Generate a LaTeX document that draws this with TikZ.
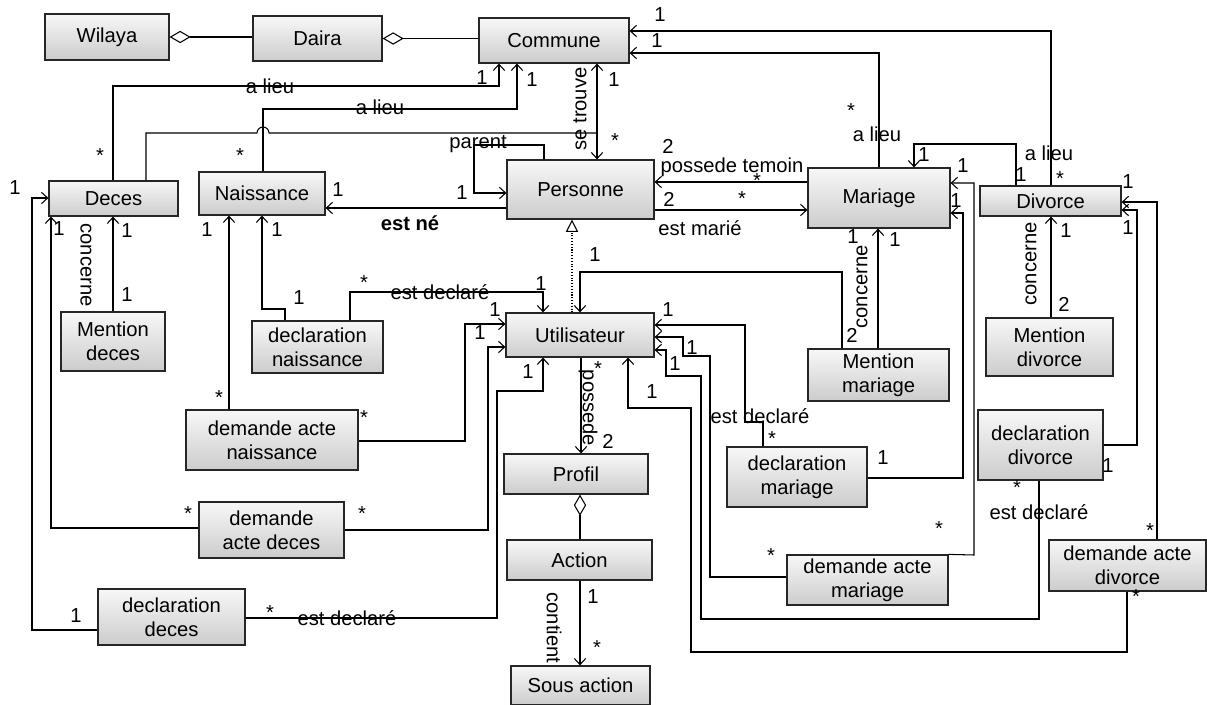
\documentclass[tikz,border=0pt]{standalone}
\usepackage{fontspec}
\setmainfont{Liberation Sans}
\usetikzlibrary{arrows.meta}
\tikzset{
  classe/.style={draw=black!85, line width=0.7pt, top color=gray!6, bottom color=gray!40,
    align=center, inner sep=1pt, font=\fontsize{11.5}{13.5}\selectfont},
  taille/.style 2 args={minimum width=#1*0.02cm, minimum height=#2*0.02cm},
  fleche/.style={line width=0.6pt, -{Straight Barb[length=3.5pt,width=6.5pt]}},
  fleches/.style={line width=0.6pt, {Straight Barb[length=3.5pt,width=6.5pt]}-{Straight Barb[length=3.5pt,width=6.5pt]}},
  agreg/.style={line width=0.6pt, {Diamond[open,length=12pt,width=7pt]}-},
  herit/.style={line width=0.6pt, densely dotted, -{Triangle[open,length=7pt,width=7pt]}},
  lien/.style={line width=0.6pt},
  mult/.style={font=\fontsize{11.5}{13}\selectfont, inner sep=0pt},
  role/.style={font=\fontsize{11.5}{13}\selectfont, inner sep=0pt}
}
\begin{document}
\begin{tikzpicture}[x=0.02cm, y=-0.02cm]
    \useasboundingbox (0,0) rectangle (1207,705);
    % classes
    \node[classe, taille={124}{46}] (wilaya) at (107,37) {Wilaya};
    \node[classe, taille={129}{45}] (daira) at (317.5,38.5) {Daira};
    \node[classe, taille={150}{45}] (commune) at (554,40.5) {Commune};
    \node[classe, taille={129}{35}] (deces) at (113.5,198.5) {Deces};
    \node[classe, taille={126}{43}] (naissance) at (262,193.5) {Naissance};
    \node[classe, taille={147}{59}] (personne) at (580.5,189.5) {Personne};
    \node[classe, taille={142}{60}] (mariage) at (879,198) {Mariage};
    \node[classe, taille={141}{30}] (divorce) at (1050.5,201) {Divorce};
    \node[classe, taille={104}{59}] (mdeces) at (113,341.5) {Mention\\deces};
    \node[classe, taille={131}{52}] (dnaiss) at (317.5,347) {declaration\\naissance};
    \node[classe, taille={172}{60}] (danaiss) at (272,440) {demande acte\\naissance};
    \node[classe, taille={148}{44}] (util) at (580,335) {Utilisateur};
    \node[classe, taille={141}{52}] (mmariage) at (878.5,375) {Mention\\mariage};
    \node[classe, taille={127}{58}] (mdivorce) at (1049.5,347) {Mention\\divorce};
    \node[classe, taille={125}{70}] (ddivorce) at (1040.5,445) {declaration\\divorce};
    \node[classe, taille={144}{40}] (profil) at (576,474) {Profil};
    \node[classe, taille={145}{40}] (action) at (579.5,560) {Action};
    \node[classe, taille={139}{39}] (sousaction) at (580.5,685.5) {Sous action};
    \node[classe, taille={140}{60}] (dmariage) at (797,477) {declaration\\mariage};
    \node[classe, taille={161}{50}] (damariage) at (867.5,580) {demande acte\\mariage};
    \node[classe, taille={157}{51}] (dadivorce) at (1127.5,565.5) {demande acte\\divorce};
    \node[classe, taille={145}{56}] (dadeces) at (271.5,530) {demande\\acte deces};
    \node[classe, taille={147}{56}] (ddeces) at (171.5,617) {declaration\\deces};

    % agregations
    \draw[agreg] (wilaya.east) -- (daira.west |- wilaya.east);
    \draw[agreg] (daira.east) -- (commune.west |- daira.east);
    \draw[agreg] (profil.south -| 580,0) -- (action.north -| 580,0);

    % a lieu
    \draw[fleche] (divorce.north -| 1051,0) -- (1051,31) -- (commune.east |- 0,31);
    \node[mult] at (660,15) {1};
    \node[mult] at (1060,179) {*};
    \node[role] at (1049,153) {a lieu};
    \draw[fleche] (mariage.north -| 879,0) -- (879,53) -- (commune.east |- 0,53);
    \node[mult] at (657,41) {1};
    \node[mult] at (851,111) {*};
    \node[role] at (877,134) {a lieu};
    \draw[fleche] (deces.north -| 113,0) -- (113,86) -- (499,86) -- (commune.south -| 499,0);
    \node[mult] at (100,156) {*};
    \node[mult] at (482,78) {1};
    \node[role] at (270,86) {a lieu};
    \draw[fleche] (naissance.north -| 263,0) -- (263,109) -- (517,109) -- (commune.south -| 517,0);
    \node[mult] at (240,156) {*};
    \node[mult] at (532,80) {1};
    \node[role] at (380,107) {a lieu};

    % se trouve
    \draw[fleches] (commune.south -| 597,0) -- (personne.north -| 597,0);
    \node[role, rotate=90] at (580,109) {se trouve};
    \node[mult] at (614,80) {1};
    \node[mult] at (615,141) {*};
    \coordinate (jonction) at (597,133);
    \draw[lien] (deces.north -| 146,0) -- (146,133) -- (257,133)
        arc[start angle=180, end angle=360, radius=6] -- (jonction);

    % personne
    \draw[fleche] (personne.north -| 544,0) -- (544,145) -- (474,145) -- (474,193) -- (personne.west |- 0,193);
    \node[role] at (478,144) {parent};
    \node[mult] at (462,193) {1};
    \draw[fleche] (personne.west |- 0,208) -- (naissance.east |- 0,208);
    \node[mult] at (338,190) {1};
    \node[role, font=\fontsize{11.5}{13}\selectfont\bfseries] at (410,223) {est né};
    \draw[fleche] (mariage.west |- 0,182) -- (personne.east |- 0,182);
    \node[mult] at (668,146) {2};
    \node[role] at (732,167) {possede temoin};
    \node[mult] at (757,181) {*};
    \draw[fleche] (personne.east |- 0,210) -- (mariage.west |- 0,210);
    \node[mult] at (669,199) {2};
    \node[mult] at (742,199) {*};
    \node[role] at (700,228) {est marié};
    \draw[herit] (util.north -| 572,0) -- (personne.south -| 572,0);

    % mariage, divorce
    \draw[fleche] (divorce.north -| 1016,0) -- (1016,144) -- (914,144) -- (mariage.north -| 914,0);
    \node[mult] at (924,155) {1};
    \node[mult] at (1021,175) {1};
    \draw[fleche] (damariage.north east) -- (974,555) -- (974,183) -- (mariage.east |- 0,183);
    \node[mult] at (963,166) {1};
    \node[mult] at (939,529) {*};
    \draw[fleche] (dmariage.east |- 0,478) -- (963,478) -- (963,213) -- (mariage.east |- 0,213);
    \node[mult] at (956,201) {1};
    \node[mult] at (883,458) {1};
    \draw[fleche] (dadivorce.north -| 1157,0) -- (1157,202) -- (divorce.east |- 0,202);
    \node[mult] at (1128,182) {1};
    \node[mult] at (1150,531) {*};
    \draw[fleche] (ddivorce.east |- 0,445) -- (1137,445) -- (1137,210) -- (divorce.east |- 0,210);
    \node[mult] at (1128,228) {1};
    \node[mult] at (1108,466) {1};
    \draw[fleche] (mdivorce.north -| 1051,0) -- (divorce.south -| 1051,0);
    \node[mult] at (1066,231) {1};
    \node[mult] at (1064,304) {2};
    \node[role, rotate=90] at (1031,264) {concerne};
    \draw[fleche] (mmariage.north -| 878,0) -- (mariage.south -| 878,0);
    \node[mult] at (853,237) {1};
    \node[mult] at (895,240) {1};
    \node[role, rotate=90] at (862,287) {concerne};
    \node[mult] at (852,335) {2};
    \draw[fleche] (mmariage.north -| 842,0) -- (842,272) -- (580,272) -- (util.north -| 580,0);
    \node[mult] at (595,255) {1};

    % naissance
    \draw[fleche] (dnaiss.north -| 350,0) -- (350,292) -- (543,292) -- (util.north -| 543,0);
    \node[mult] at (364,283) {*};
    \node[role] at (440,292) {est declaré};
    \node[mult] at (541,284) {1};
    \draw[fleche] (dnaiss.north -| 285,0) -- (285,309) -- (262,309) -- (naissance.south -| 262,0);
    \node[mult] at (299,298) {1};
    \node[mult] at (277,230) {1};
    \draw[fleche] (danaiss.north -| 229,0) -- (naissance.south -| 229,0);
    \node[mult] at (219,398) {*};
    \node[mult] at (207,230) {1};
    \draw[fleche] (danaiss.east |- 0,441) -- (465,441) -- (465,324) -- (util.west |- 0,324);
    \node[mult] at (364,418) {*};
    \node[mult] at (495,310) {1};

    % deces
    \draw[fleche] (dadeces.east |- 0,530) -- (488,530) -- (488,347) -- (util.west |- 0,347);
    \node[mult] at (362,514) {*};
    \node[mult] at (480,333) {1};
    \draw[fleche] (ddeces.east |- 0,618) -- (497,618) -- (497,391) -- (543,391) -- (util.south -| 543,0);
    \node[mult] at (270,613) {*};
    \node[role] at (347,618) {est declaré};
    \node[mult] at (528,372) {1};
    \draw[fleche] (ddeces.west |- 0,630) -- (32,630) -- (32,198) -- (deces.west |- 0,198);
    \node[mult] at (15,188) {1};
    \node[mult] at (76,616) {1};
    \draw[fleche] (dadeces.west |- 0,528) -- (51,528) -- (deces.south -| 51,0);
    \node[mult] at (59,229) {1};
    \node[mult] at (188,514) {*};
    \draw[fleche] (mdeces.north -| 113,0) -- (deces.south -| 113,0);
    \node[mult] at (127,231) {1};
    \node[mult] at (127,295) {1};
    \node[role, rotate=-90] at (86,265) {concerne};

    % utilisateur, cote droit
    \draw[fleche] (dmariage.north -| 763,0) -- (763,422) -- (745,422) -- (745,325) -- (util.east |- 0,325);
    \node[mult] at (668,310) {1};
    \node[role] at (760,416) {est declaré};
    \node[mult] at (772,439) {*};
    \draw[fleche] (damariage.west |- 0,577) -- (710,577) -- (710,356) -- (683,356) -- (683,337) -- (util.east |- 0,337);
    \node[mult] at (692,348) {1};
    \node[mult] at (771,556) {*};
    \draw[fleche] (ddivorce.south -| 1039,0) -- (1039,619) -- (701,619) -- (701,376) -- (666,376) -- (666,350) -- (util.east |- 0,350);
    \node[mult] at (675,364) {1};
    \node[mult] at (1017,488) {*};
    \node[role] at (1039,512) {est declaré};
    \draw[fleche] (dadivorce.south -| 1127,0) -- (1127,652) -- (691,652) -- (691,408) -- (628,408) -- (util.south -| 628,0);
    \node[mult] at (652,392) {1};
    \node[mult] at (1136,597) {*};

    % profil, action
    \draw[fleche] (util.south -| 581,0) -- (profil.north -| 581,0);
    \node[mult] at (598,369) {*};
    \node[mult] at (608,441) {2};
    \node[role, rotate=-90] at (588,408) {possede};
    \draw[fleche] (action.south -| 580,0) -- (sousaction.north -| 580,0);
    \node[mult] at (593,597) {1};
    \node[mult] at (597,648) {*};
    \node[role, rotate=-90] at (554,628) {contient};
\end{tikzpicture}
\end{document}
